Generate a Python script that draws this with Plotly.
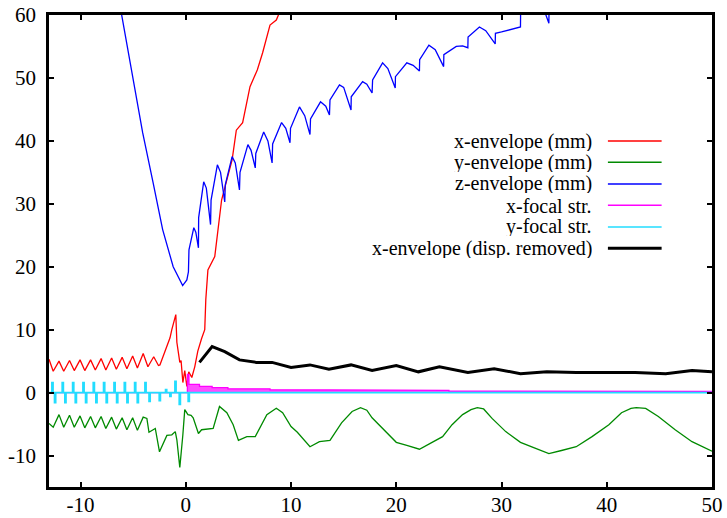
import plotly.graph_objects as go

# ---------------- data ----------------
# x-envelope (mm)
xenv_s = [-13.0, -12.6, -12.05, -11.6, -11.05, -10.6, -10.05, -9.6, -9.05, -8.6, -8.05,
          -7.6, -7.05, -6.6, -6.05, -5.6, -5.05, -4.6, -4.05, -3.6, -3.05, -2.6, -2.46,
          -1.8, -1.5, -1.33, -0.95, -0.85, -0.57, -0.45, -0.28, -0.1, 0.1, 0.28, 0.57,
          0.85, 1.14, 1.5, 1.8, 1.9, 2.1, 2.75, 3.4, 3.9, 4.4, 4.8, 5.4, 6.1, 6.8, 7.3,
          8.0, 8.6, 8.8, 9.5]
xenv_v = [5.3, 3.4, 5.0, 3.4, 5.1, 3.5, 5.2, 3.5, 5.2, 3.6, 5.4,
          3.6, 5.5, 3.7, 5.6, 3.8, 5.8, 3.9, 6.2, 4.1, 5.7, 4.3, 4.4,
          7.3, 8.7, 10.0, 12.4, 8.0, 4.8, 5.1, 1.6, 3.5, 1.0, 3.3, 2.4,
          4.1, 6.6, 8.6, 10.0, 14.8, 19.5, 21.6, 30.6, 33.8, 37.0, 41.7, 42.9, 48.6, 51.3, 54.0,
          58.4, 59.2, 60.0, 64.0]

# y-envelope (mm)
yenv_s = [-13.0, -12.6, -12.05, -11.6, -11.05, -10.6, -10.05, -9.6, -9.05, -8.6, -8.05,
          -7.6, -7.05, -6.6, -6.05, -5.6, -5.05, -4.6, -4.05, -3.7, -3.5, -2.9, -2.5,
          -1.8, -1.33, -1.0, -0.85, -0.57, -0.28, -0.1, 0.2, 0.5, 0.7, 1.2, 1.5, 2.3, 2.6,
          3.2, 3.9, 4.5, 5.0, 5.8, 6.6, 7.7, 8.6, 9.2, 10.0, 10.6, 11.8, 12.7, 13.7, 14.8,
          15.8, 16.6, 17.2, 17.7, 18.7, 20.0, 21.0, 22.2, 23.4, 24.4, 25.3, 26.3, 27.1,
          27.7, 28.3, 29.1, 30.4, 31.8, 33.3, 34.5, 35.7, 37.1, 38.6, 40.2, 41.4, 42.3,
          42.8, 43.7, 44.9, 46.5, 48.1, 49.5, 50.0]
yenv_v = [-4.9, -5.5, -3.5, -5.5, -3.6, -5.5, -3.7, -5.6, -3.8, -5.6, -3.8,
          -5.7, -3.9, -5.8, -4.0, -5.9, -4.0, -6.0, -3.9, -4.1, -6.3, -5.7, -9.4,
          -6.8, -6.7, -6.2, -7.5, -11.9, -6.7, -2.7, -3.5, -3.6, -4.0, -6.5, -5.9, -5.7, -5.7,
          -2.2, -3.2, -5.1, -7.6, -7.0, -7.0, -3.5, -2.5, -3.2, -5.4, -6.3, -8.6, -7.8, -7.6, -4.8,
          -3.0, -2.4, -2.8, -4.0, -5.7, -7.9, -8.4, -9.0, -7.9, -7.0, -5.1, -3.5, -2.7,
          -2.4, -2.6, -4.1, -6.2, -7.9, -8.9, -9.7, -9.2, -8.6, -7.0, -5.1, -3.2, -2.5,
          -2.4, -2.5, -3.8, -5.9, -7.8, -9.0, -9.3]

# z-envelope (mm)
zenv_s = [-7.0, -6.1, -5.0, -4.1, -3.1, -2.2, -1.2, -0.6, -0.3, 0.1, 0.25, 0.3, 0.76, 0.95,
          1.2, 1.22, 1.7, 1.95, 2.35, 2.4, 3.0, 3.3, 3.7, 3.75, 4.4, 4.7, 5.1, 5.15, 5.9,
          6.2, 6.6, 6.65, 7.4, 7.8, 8.2, 8.25, 9.1, 9.5, 9.9, 9.95, 10.8, 11.3, 11.8, 11.85,
          12.8, 13.3, 13.65, 13.7, 14.6, 15.0, 15.7, 15.72, 16.8, 17.2, 17.7, 17.75, 18.7,
          19.2, 19.9, 19.92, 21.0, 21.6, 22.2, 22.22, 23.1, 23.7, 24.5, 24.52, 25.7, 26.3,
          26.8, 26.82, 27.9, 28.5, 29.4, 29.42, 30.0, 31.8, 31.82, 34.0, 34.5, 34.52, 36.0]
zenv_v = [68.5, 60.0, 49.7, 41.3, 33.3, 25.9, 20.0, 18.0, 17.0, 17.9, 19.2, 22.7, 26.2, 25.5,
          23.0, 27.8, 33.5, 32.5, 26.7, 30.6, 36.2, 35.0, 30.3, 33.0, 37.5, 36.5, 32.2, 35.0, 39.4,
          38.5, 35.7, 38.0, 41.4, 40.0, 36.5, 39.5, 42.9, 42.0, 39.7, 42.0, 45.4, 44.0, 41.0, 43.5,
          46.2, 45.5, 44.1, 46.5, 48.9, 48.5, 44.9, 47.0, 49.4, 49.0, 47.6, 49.7, 52.4,
          51.5, 48.4, 50.2, 52.4, 52.0, 51.1, 52.9, 55.2, 54.5, 51.8, 53.7, 55.0, 55.1,
          54.8, 56.5, 58.1, 57.5, 55.4, 57.1, 57.3, 58.1, 61.5, 61.0, 58.7, 62.0, 63.0]

# x-focal strength (upper edge of the band after the gun)
xfoc_s = [-13.0, 0.15, 0.15, 0.3, 0.3, 1.3, 1.3, 2.5, 2.5, 4.0, 4.0, 8.0, 8.0, 15.0, 15.0,
          25.0, 25.0, 35.0, 35.0, 50.0]
xfoc_v = [0.0, 0.0, 2.9, 2.9, 1.3, 1.3, 1.0, 1.0, 0.8, 0.8, 0.6, 0.6, 0.45, 0.45, 0.35,
          0.35, 0.25, 0.25, 0.2, 0.2]

# y-focal strength: quadrupole positions and strengths
yquad_pos = [-12.73, -12.48, -11.75, -11.50, -10.76, -10.51, -9.78, -9.53, -8.80, -8.55,
             -7.82, -7.57, -6.83, -6.58, -5.85, -5.60, -4.87, -4.62, -3.89, -3.50,
             -2.53, -1.93, -1.52, -1.04, -0.63, 0.22]
yquad_k = [1.6, -1.6, 1.6, -1.6, 1.6, -1.6, 1.6, -1.6, 1.6, -1.6,
           1.6, -1.6, 1.6, -1.6, 1.6, -1.6, 1.6, -1.6, 1.6, -1.4,
           -1.3, 0.5, -0.6, 1.8, -1.9, -1.4]
yquad_len = 0.12

# x-envelope with dispersion removed
xdisp_s = [1.3, 2.5, 3.7, 5.1, 6.7, 8.2, 10.0, 11.8, 13.6, 15.7, 17.7, 20.0, 22.1, 24.1,
           26.8, 29.3, 31.8, 34.3, 37.1, 39.9, 42.7, 45.6, 48.1, 50.0]
xdisp_v = [4.8, 7.3, 6.5, 5.2, 4.8, 4.8, 4.0, 4.4, 3.7, 4.4, 3.5, 4.3, 3.3, 4.1,
           3.2, 3.8, 3.0, 3.3, 3.2, 3.2, 3.2, 3.0, 3.5, 3.3]

x_ticks = [-10, 0, 10, 20, 30, 40, 50]
y_ticks = [-10, 0, 10, 20, 30, 40, 50, 60]

labels = ["x-envelope (mm)", "y-envelope (mm)", "z-envelope (mm)",
          "x-focal str.", "y-focal str.", "x-envelope (disp. removed)"]
colors = ["#ff0000", "#008a00", "#0000ff", "#ff00ff", "#22ddff", "#000000"]
widths = [1.3, 1.3, 1.3, 1.3, 1.6, 3.0]

# build y-focal step series from quadrupole list
yfoc_s = [-13.0]
yfoc_v = [0.0]
for p, k in sorted(zip(yquad_pos, yquad_k)):
    yfoc_s += [p, p, p + yquad_len, p + yquad_len]
    yfoc_v += [0.0, k, k, 0.0]
yfoc_s.append(50.0)
yfoc_v.append(0.0)

FONT = "Liberation Serif, Times New Roman, serif"

fig = go.Figure()
fig.add_trace(go.Scatter(x=xenv_s, y=xenv_v, mode="lines", name=labels[0],
                         line=dict(color=colors[0], width=widths[0])))
fig.add_trace(go.Scatter(x=yenv_s, y=yenv_v, mode="lines", name=labels[1],
                         line=dict(color=colors[1], width=widths[1])))
fig.add_trace(go.Scatter(x=zenv_s, y=zenv_v, mode="lines", name=labels[2],
                         line=dict(color=colors[2], width=widths[2])))
fig.add_trace(go.Scatter(x=xfoc_s, y=xfoc_v, mode="lines", name=labels[3],
                         line=dict(color=colors[3], width=widths[3]),
                         fill="tozeroy", fillcolor="rgba(255,0,255,0.7)"))
fig.add_trace(go.Scatter(x=yfoc_s, y=yfoc_v, mode="lines", name=labels[4],
                         line=dict(color=colors[4], width=widths[4])))
fig.add_trace(go.Scatter(x=xdisp_s, y=xdisp_v, mode="lines", name=labels[5],
                         line=dict(color=colors[5], width=widths[5])))

# gnuplot-style key: right-aligned text, line sample on the right
row_y = [0.733, 0.688, 0.642, 0.597, 0.551, 0.506]
for lab, col, w, ry in zip(labels, colors, widths, row_y):
    fig.add_annotation(x=0.82, y=ry, xref="paper", yref="paper", text=lab,
                       showarrow=False, xanchor="right", yanchor="middle",
                       borderpad=0, height=19,
                       font=dict(family=FONT, size=20, color="black"))
    fig.add_shape(type="line", xref="paper", yref="paper", x0=0.843, x1=0.924,
                  y0=ry, y1=ry, line=dict(color=col, width=max(w, 1.6)))

fig.update_layout(
    width=727, height=518,
    margin=dict(l=49, r=15, t=15, b=31, autoexpand=False),
    paper_bgcolor="white", plot_bgcolor="white",
    showlegend=False,
    font=dict(family=FONT, size=21, color="black"),
)
fig.update_xaxes(range=[-13, 50], tickvals=x_ticks, ticktext=[str(t) for t in x_ticks],
                 automargin=False, ticklabelstandoff=-3,
                 showgrid=False, zeroline=False, showline=True, linecolor="black",
                 linewidth=2.5, mirror="ticks", ticks="inside", ticklen=5, tickwidth=1.5,
                 tickcolor="black", tickfont=dict(family=FONT, size=21))
fig.update_yaxes(range=[-15, 60], tickvals=y_ticks, ticktext=[str(t) for t in y_ticks],
                 automargin=False, ticklabelstandoff=6,
                 showgrid=False, zeroline=False, showline=True, linecolor="black",
                 linewidth=2.5, mirror="ticks", ticks="inside", ticklen=5, tickwidth=1.5,
                 tickcolor="black", tickfont=dict(family=FONT, size=21))

# remove the default 8 px body margin so the figure fills the window exactly
fig.write_html("out.html", config={"displayModeBar": False},
               post_script="document.body.style.margin='0';")
